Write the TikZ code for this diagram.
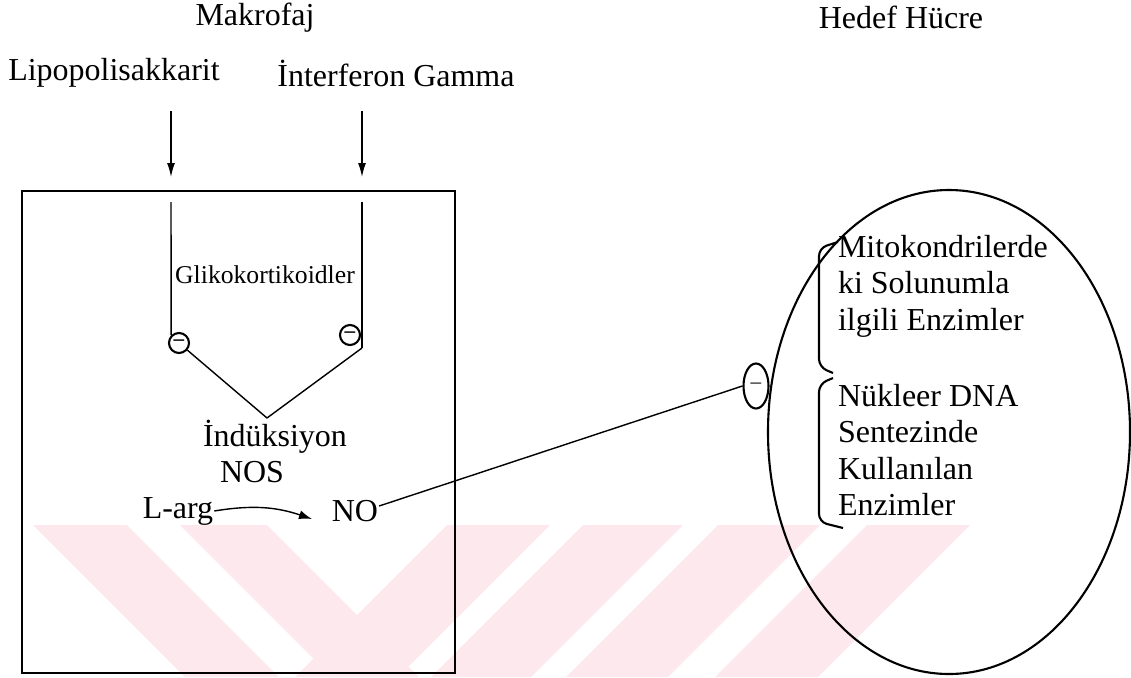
\documentclass[tikz,border=0pt]{standalone}
\usepackage{fontspec}
\setmainfont{Liberation Serif}
\usetikzlibrary{arrows.meta,shapes.geometric}
\pgfdeclarelayer{bg}
\pgfsetlayers{bg,main}
\definecolor{wmpink}{RGB}{252,232,237}

\begin{document}
\begin{tikzpicture}[line width=0.6pt,
    txt/.style={inner sep=0pt, font=\fontsize{9.1}{10.4}\selectfont},
    smalltxt/.style={inner sep=0pt, font=\fontsize{7.3}{8}\selectfont},
    minus/.style={draw, circle, inner sep=0pt, minimum size=0.2cm, font=\fontsize{6}{6}\selectfont\bfseries},
    stripe/.style={fill=wmpink, draw=none},
    tip/.style={-{Latex[length=0.14cm,width=0.08cm]}}]
    \useasboundingbox (0,0) rectangle (11.31cm, 6.77cm);

    \node (mak) [txt] at (2.55cm, 6.59cm) {Makrofaj};
    \node (hedef) [txt] at (9.01cm, 6.60cm) {Hedef Hücre};
    \node (lps) [txt] at (1.14cm, 6.04cm) {Lipopolisakkarit};
    \node (ifn) [txt] at (3.96cm, 6.04cm) {İnterferon Gamma};

    \coordinate (lpstop) at (1.71cm, 5.66cm);
    \coordinate (lpsbot) at (1.71cm, 5.00cm);
    \coordinate (ifntop) at (3.62cm, 5.66cm);
    \coordinate (ifnbot) at (3.62cm, 5.00cm);

    \node (makro) [draw, line width=0.8pt, minimum width=4.33cm, minimum height=4.82cm] at (2.385cm, 2.45cm) {};

    \coordinate (l1) at (1.71cm, 4.75cm);
    \coordinate (r1) at (3.62cm, 4.75cm);
    \coordinate (r2) at (3.62cm, 3.29cm);
    \coordinate (ind) at (2.67cm, 2.59cm);
    \node (m1) [minus] at (1.79cm, 3.34cm) {--};
    \node (m2) [minus] at (3.50cm, 3.42cm) {--};
    \node (gk) [smalltxt] at (2.65cm, 4.02cm) {Glikokortikoidler};

    \node (indk) [txt] at (2.75cm, 2.40cm) {İndüksiyon};
    \node (nos) [txt] at (2.52cm, 2.05cm) {NOS};
    \node (larg) [txt] at (1.78cm, 1.66cm) {L-arg};
    \node (no) [txt] at (3.55cm, 1.66cm) {NO};
    \coordinate (noin) at (3.12cm, 1.58cm);

    \node (inh) [draw, ellipse, inner sep=0pt, minimum width=0.25cm, minimum height=0.45cm, font=\fontsize{6}{6}\selectfont] at (7.56cm, 2.91cm) {--};
    \node (cell) [draw, ellipse, minimum width=3.62cm, minimum height=4.84cm] at (9.49cm, 2.45cm) {};

    \node (mito) [txt, anchor=west, align=left] at (8.37cm, 3.91cm) {Mitokondrilerde\\ki Solunumla\\ilgili Enzimler};
    \node (nuk) [txt, anchor=west, align=left] at (8.37cm, 2.27cm) {Nükleer DNA\\Sentezinde\\Kullanılan\\Enzimler};

    % brackets
    \draw[rounded corners=0.08cm] (8.38cm, 4.35cm) -- (8.19cm, 4.29cm) -- (8.19cm, 3.10cm) -- (8.33cm, 3.04cm);
    \draw[rounded corners=0.08cm] (8.33cm, 2.99cm) -- (8.19cm, 2.93cm) -- (8.19cm, 1.55cm) -- (8.43cm, 1.49cm);

    \begin{pgfonlayer}{bg}
        % watermark
        \fill[stripe] (0.33cm, 1.52cm) -- (1.27cm, 1.52cm) -- (2.79cm, 0cm) -- (1.85cm, 0cm) -- cycle;
        \fill[stripe] (1.80cm, 1.52cm) -- (2.67cm, 1.52cm) -- (4.19cm, 0cm) -- (3.32cm, 0cm) -- cycle;
        \fill[stripe] (4.47cm, 1.52cm) -- (5.50cm, 1.52cm) -- (3.98cm, 0cm) -- (2.95cm, 0cm) -- cycle;
        \fill[stripe] (5.83cm, 1.52cm) -- (6.83cm, 1.52cm) -- (5.31cm, 0cm) -- (4.31cm, 0cm) -- cycle;
        \fill[stripe] (7.18cm, 1.52cm) -- (8.20cm, 1.52cm) -- (6.68cm, 0cm) -- (5.66cm, 0cm) -- cycle;
        \fill[stripe] (8.67cm, 1.52cm) -- (9.70cm, 1.52cm) -- (8.18cm, 0cm) -- (7.15cm, 0cm) -- cycle;

        \draw[tip] (lpstop) -- (lpsbot);
        \draw[tip] (ifntop) -- (ifnbot);
        \draw (l1) -- (m1.north west);
        \draw (m1) -- (ind);
        \draw (r1) -- (r2);
        \draw (r2) -- (ind);
        \draw[-{Latex[length=0.13cm,width=0.09cm]}] (larg.east) to[bend left=14] (noin);
        \draw ([yshift=0.05cm]no.east) -- (inh.west);
    \end{pgfonlayer}
\end{tikzpicture}
\end{document}
